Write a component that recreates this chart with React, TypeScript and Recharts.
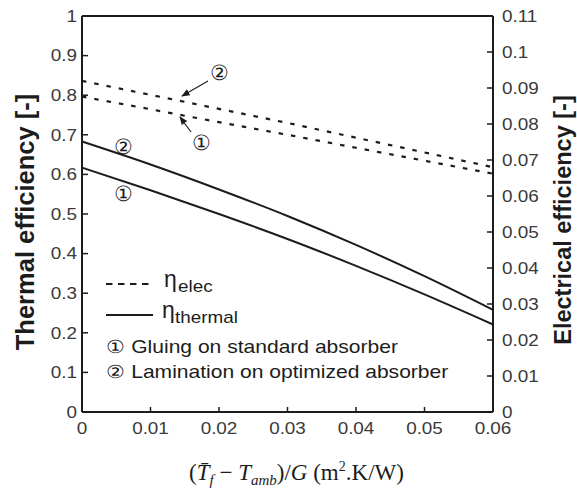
import React from "react";
import { LineChart, Line, XAxis, YAxis, ReferenceLine } from "recharts";

// ─── Data ─────────────────────────────────────────────────────────────────────

const xValues = [0, 0.01, 0.02, 0.03, 0.04, 0.05, 0.06];
// thermal efficiency (left axis)
const thermalGluing = [0.617, 0.56, 0.5, 0.437, 0.369, 0.297, 0.221];
const thermalLamination = [0.683, 0.625, 0.562, 0.495, 0.422, 0.343, 0.258];
// electrical efficiency (right axis)
const elecGluing = [0.0876, 0.0841, 0.0805, 0.077, 0.0734, 0.0698, 0.0662];
const elecLamination = [0.092, 0.0881, 0.0842, 0.0803, 0.0762, 0.0721, 0.068];

const xTicks = [0, 0.01, 0.02, 0.03, 0.04, 0.05, 0.06];
const leftTicks = [0, 0.1, 0.2, 0.3, 0.4, 0.5, 0.6, 0.7, 0.8, 0.9, 1];
const rightTicks = [0, 0.01, 0.02, 0.03, 0.04, 0.05, 0.06, 0.07, 0.08, 0.09, 0.1, 0.11];

const data = xValues.map((x, i) => ({
  x,
  thermalGluing: thermalGluing[i],
  thermalLamination: thermalLamination[i],
  elecGluing: elecGluing[i],
  elecLamination: elecLamination[i],
}));

// ─── Styles ───────────────────────────────────────────────────────────────────

const SANS = "'Liberation Sans', Arial, sans-serif";
const SERIF = "'Liberation Serif', 'Times New Roman', serif";
const INK = "#1c1c1c";
const TICK = "#3a3a3a";
const SX = 1.18; // the source text is a little wider than tall

// ─── Custom ticks (tick marks point into the plot) ────────────────────────────

const LeftTick = ({ x, y, payload }: any) => (
  <g>
    <line x1={x} x2={x + 6} y1={y} y2={y} stroke={INK} strokeWidth={1.5} />
    <text
      transform={`translate(${x - 5},${y}) scale(${SX},1)`}
      dy="0.36em"
      textAnchor="end"
      fontSize={16}
      fontFamily={SANS}
      fill={TICK}
    >
      {String(payload.value)}
    </text>
  </g>
);

const RightTick = ({ x, y, payload }: any) => (
  <g>
    <line x1={x} x2={x - 6} y1={y} y2={y} stroke={INK} strokeWidth={1.5} />
    <text
      transform={`translate(${x + 9},${y}) scale(${SX},1)`}
      dy="0.36em"
      textAnchor="start"
      fontSize={16}
      fontFamily={SANS}
      fill={TICK}
    >
      {String(payload.value)}
    </text>
  </g>
);

const BottomTick = ({ x, y, payload }: any) => (
  <g>
    <line x1={x} x2={x} y1={y} y2={y - 5} stroke={INK} strokeWidth={1.5} />
    <text
      transform={`translate(${x},${y + 22}) scale(${SX},1)`}
      textAnchor="middle"
      fontSize={16}
      fontFamily={SANS}
      fill={TICK}
    >
      {String(payload.value)}
    </text>
  </g>
);

// ─── Overlay text helper ──────────────────────────────────────────────────────

const SText = ({ x, y, size, sx = SX, anchor = "start", children }: any) => (
  <text
    transform={`translate(${x},${y}) scale(${sx},1)`}
    fontSize={size}
    textAnchor={anchor}
    fontFamily={SANS}
    fill={INK}
  >
    {children}
  </text>
);

const Circled = ({ x, y, children }: any) => (
  <text
    x={x}
    y={y}
    fontSize={21}
    textAnchor="middle"
    dominantBaseline="central"
    fontFamily={SANS}
    fill={INK}
  >
    {children}
  </text>
);

// ─── Component ────────────────────────────────────────────────────────────────

export default function App() {
  return (
    <div style={{ position: "absolute", left: 0, top: 0, width: 577, height: 488, background: "#fff" }}>
      <LineChart width={577} height={488} data={data} margin={{ top: 16, right: 0, bottom: 46, left: 0 }}>
        <XAxis
          dataKey="x"
          type="number"
          domain={[0, 0.06]}
          ticks={xTicks}
          interval={0}
          height={30}
          tickSize={0}
          tickMargin={0}
          tick={<BottomTick />}
          axisLine={{ stroke: INK, strokeWidth: 2 }}
        />
        <YAxis
          yAxisId="left"
          orientation="left"
          domain={[0, 1]}
          ticks={leftTicks}
          interval={0}
          width={82}
          tickSize={0}
          tickMargin={0}
          tick={<LeftTick />}
          axisLine={{ stroke: INK, strokeWidth: 2 }}
        />
        <YAxis
          yAxisId="right"
          orientation="right"
          domain={[0, 0.11]}
          ticks={rightTicks}
          interval={0}
          width={84}
          tickSize={0}
          tickMargin={0}
          tick={<RightTick />}
          axisLine={{ stroke: INK, strokeWidth: 2 }}
        />

        {/* top frame */}
        <ReferenceLine yAxisId="left" y={1} stroke={INK} strokeWidth={2} />

        {/* electrical efficiency – dashed */}
        <Line
          yAxisId="right"
          dataKey="elecLamination"
          type="linear"
          stroke={INK}
          strokeWidth={2.2}
          strokeDasharray="4.5 8"
          dot={false}
          isAnimationActive={false}
        />
        <Line
          yAxisId="right"
          dataKey="elecGluing"
          type="linear"
          stroke={INK}
          strokeWidth={2.2}
          strokeDasharray="4.5 8"
          dot={false}
          isAnimationActive={false}
        />

        {/* thermal efficiency – solid */}
        <Line
          yAxisId="left"
          dataKey="thermalLamination"
          type="monotone"
          stroke={INK}
          strokeWidth={2}
          dot={false}
          isAnimationActive={false}
        />
        <Line
          yAxisId="left"
          dataKey="thermalGluing"
          type="monotone"
          stroke={INK}
          strokeWidth={2}
          dot={false}
          isAnimationActive={false}
        />
      </LineChart>

      {/* annotations, legend and axis titles */}
      <svg width={577} height={488} style={{ position: "absolute", left: 0, top: 0, pointerEvents: "none" }}>
        <defs>
          <marker id="arrowHead" viewBox="0 0 10 10" refX="9" refY="5" markerWidth="7" markerHeight="7" orient="auto">
            <path d="M0,1 L10,5 L0,9 z" fill={INK} />
          </marker>
        </defs>

        {/* axis titles */}
        <text
          transform="translate(33.5,222) rotate(-90)"
          textAnchor="middle"
          fontSize={25.5}
          fontWeight="bold"
          fontFamily={SANS}
          fill={INK}
        >
          Thermal efficiency [-]
        </text>
        <text
          transform="translate(571,220) rotate(-90)"
          textAnchor="middle"
          fontSize={23.5}
          fontWeight="bold"
          fontFamily={SANS}
          fill={INK}
        >
          Electrical efficiency [-]
        </text>

        <text x={189} y={480} fontSize={23} fontFamily={SERIF} fill={INK}>
          <tspan>(</tspan>
          <tspan fontStyle="italic">{"T\u0304"}</tspan>
          <tspan fontStyle="italic" fontSize={15} dy={5}>f</tspan>
          <tspan dy={-5}>{" \u2212 "}</tspan>
          <tspan fontStyle="italic">T</tspan>
          <tspan fontStyle="italic" fontSize={15} dy={5}>amb</tspan>
          <tspan dy={-5}>)/</tspan>
          <tspan fontStyle="italic">G</tspan>
          <tspan> (m</tspan>
          <tspan fontSize={14} dy={-9}>2</tspan>
          <tspan dy={9}>.K/W)</tspan>
        </text>

        {/* curve labels */}
        <Circled x={219} y={72}>②</Circled>
        <line x1={208} y1={81} x2={182} y2={96} stroke={INK} strokeWidth={1.2} markerEnd="url(#arrowHead)" />
        <Circled x={201} y={142}>①</Circled>
        <line x1={191} y1={132} x2={180} y2={117} stroke={INK} strokeWidth={1.2} markerEnd="url(#arrowHead)" />
        <Circled x={123} y={146}>②</Circled>
        <Circled x={123} y={193}>①</Circled>

        {/* legend */}
        <line x1={106} x2={152} y1={284} y2={284} stroke={INK} strokeWidth={2} strokeDasharray="6.5 5.5" />
        <SText x={164} y={287} size={23} sx={1}>η</SText>
        <SText x={178} y={292} size={16}>elec</SText>
        <line x1={106} x2={153} y1={315} y2={315} stroke={INK} strokeWidth={2} />
        <SText x={162} y={318} size={23} sx={1}>η</SText>
        <SText x={175} y={323} size={16}>thermal</SText>
        <SText x={106} y={353} size={18} sx={1.17}>① Gluing on standard absorber</SText>
        <SText x={106} y={378} size={18} sx={1.17}>② Lamination on optimized absorber</SText>
      </svg>
    </div>
  );
}
